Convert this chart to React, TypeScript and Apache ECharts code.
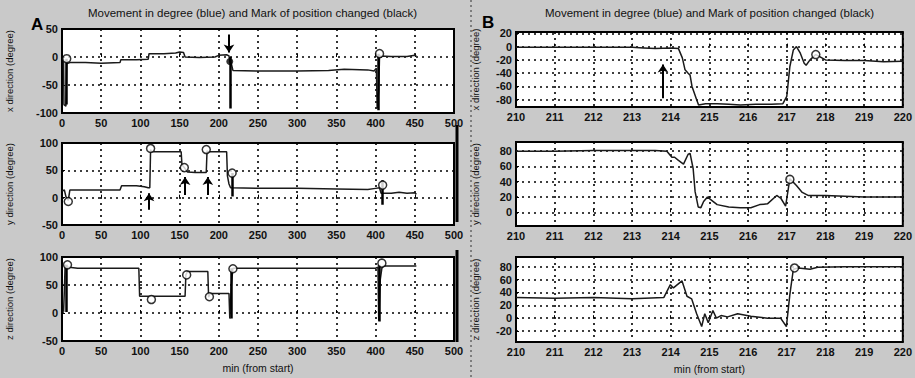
import React, { useEffect, useRef } from "react";
import * as echarts from "echarts";

const titleText = "Movement in degree (blue) and Mark of position changed (black)";
const xAxisName = "min (from start)";
const yNames = ["x direction (degree)", "y direction (degree)", "z direction (degree)"];

// ---- Panel A (0..500 min) ----
const axBlue = [[0,-4],[2,-4],[2.5,-85],[5,-88],[6,-12],[10,-10],[30,-10],[50,-11],[74,-10],[75,-5],[95,-5],[110,-4],[111,6],[130,6],[145,7],[150,9],[155,8],[157,0],[175,-1],[195,0],[200,3],[210,4],[213,2],[214,-8],[216,-12],[218,-24],[250,-25],[300,-25],[340,-24],[360,-22],[390,-23],[398,-25],[401,-20],[402,-92],[404,-60],[405,2],[420,1],[440,1],[450,3],[452,2]];
const axMarks = [[5,-3,-85],[214,0,-92],[404,6,-95]];
const axCircles = [[6,-3],[405,6]];
const axDots = [[214,-8]];
const axArrows = [[213,40,8]];

const ayBlue = [[0,12],[3,14],[5,2],[8,-5],[10,14],[40,14],[74,14],[76,22],[95,22],[105,20],[110,18],[112,18],[113,88],[114,84],[130,84],[152,84],[153,60],[156,55],[160,47],[170,46],[184,46],[185,86],[186,84],[200,84],[210,84],[211,40],[213,25],[215,18],[250,17],[300,17],[350,16],[390,15],[400,17],[405,18],[407,8],[420,8],[430,10],[440,8],[450,9],[452,6]];
const ayMarks = [[217,45,2],[408,32,-13]];
const ayCircles = [[8,-7],[113,90],[156,55],[184,88],[217,45],[409,23]];
const ayDots: number[][] = [];
const ayArrows = [[111,-22,8],[157,5,38],[186,5,38]];

const azBlue = [[2,2],[3,40],[4,86],[6,82],[20,80],[60,80],[98,80],[99,30],[120,30],[157,30],[158,68],[160,74],[186,74],[187,28],[189,35],[213,35],[214,-10],[216,50],[218,80],[260,80],[300,80],[350,80],[400,80],[403,82],[404,-14],[406,60],[408,80],[410,84],[452,84]];
const azMarks = [[5,86,2],[216,80,-10],[405,86,-15]];
const azCircles = [[7,86],[114,24],[159,68],[188,29],[218,79],[408,89]];
const azDots: number[][] = [];
const azArrows: number[][] = [];

// ---- Panel B (210..220 min) ----
const bxBlue = [[210,-1],[211,-1],[212,-1],[212.5,-1],[213,-1],[213.3,-2],[213.6,-3],[214.0,-2],[214.2,-3],[214.3,-17],[214.37,-35],[214.45,-40],[214.5,-43],[214.55,-60],[214.67,-80],[214.72,-88],[214.9,-86],[215.2,-86],[215.5,-87],[215.8,-88],[216.2,-87],[216.6,-87],[216.9,-86],[217.0,-75],[217.08,-30],[217.17,-5],[217.25,0],[217.35,-10],[217.45,-25],[217.5,-28],[217.6,-20],[217.75,-12],[217.85,-15],[218.0,-20],[218.5,-21],[219.0,-21],[219.5,-23],[220,-22]];
const bxCircles = [[217.75,-12]];
const bxArrows = [[213.8,-78,-27]];

const byBlue = [[210,80],[211,80],[212,81],[213,81],[213.6,81],[213.9,80],[214.03,72],[214.1,72],[214.2,68],[214.33,63],[214.45,76],[214.5,77],[214.58,57],[214.63,27],[214.71,7],[214.78,6],[214.85,14],[214.95,20],[215.05,16],[215.2,10],[215.5,7],[215.8,6],[216.07,6],[216.3,10],[216.5,11],[216.74,22],[216.85,18],[216.97,8],[217.08,44],[217.25,35],[217.4,26],[217.55,22],[218,22],[218.5,21],[219,20],[219.5,20],[220,20]];
const byCircles = [[217.08,43]];

const bzBlue = [[210,32],[211,31],[212,32],[213,30],[213.82,32],[213.99,52],[214.07,47],[214.29,58],[214.42,34],[214.54,30],[214.67,7],[214.8,-13],[214.88,7],[214.97,-7],[215.09,12],[215.18,0],[215.3,4],[215.47,2],[215.73,7],[216.07,3],[216.5,0],[216.84,0],[216.99,-13],[217.08,37],[217.17,76],[217.3,78],[217.6,76],[217.8,79],[218.5,80],[219,80],[220,80]];
const bzCircles = [[217.2,78]];

const bxTicks = [-80,-60,-40,-20,0,20];
const byTicks = [0,20,40,60,80];
const bzTicks = [-20,0,20,40,60,80];

const FONT = "Liberation Sans";
const INK = "#111";

type Panel = {
  grid: any; xMin: number; xMax: number; xInt: number;
  yMin: number; yMax: number; yInt?: number; yCustom?: number[];
  yName: string; nameGap: number; showXName: boolean;
  blue: number[][]; marks: number[][]; circles: number[][]; dots: number[][]; arrows: number[][];
};

const panels: Panel[] = [
  { grid: { left: 62, width: 392, top: 29, height: 84 }, xMin: 0, xMax: 500, xInt: 50, yMin: -100, yMax: 50, yInt: 50, yName: yNames[0], nameGap: 48, showXName: false, blue: axBlue, marks: axMarks, circles: axCircles, dots: axDots, arrows: axArrows },
  { grid: { left: 62, width: 392, top: 143, height: 82 }, xMin: 0, xMax: 500, xInt: 50, yMin: -50, yMax: 100, yInt: 50, yName: yNames[1], nameGap: 48, showXName: false, blue: ayBlue, marks: ayMarks, circles: ayCircles, dots: ayDots, arrows: ayArrows },
  { grid: { left: 62, width: 392, top: 257, height: 84 }, xMin: 0, xMax: 500, xInt: 50, yMin: -50, yMax: 100, yInt: 50, yName: yNames[2], nameGap: 48, showXName: true, blue: azBlue, marks: azMarks, circles: azCircles, dots: azDots, arrows: azArrows },
  { grid: { left: 516, width: 394, top: 32, height: 75 }, xMin: 210, xMax: 220, xInt: 1, yMin: -91, yMax: 22, yCustom: bxTicks, yName: yNames[0], nameGap: 36, showXName: false, blue: bxBlue, marks: [], circles: bxCircles, dots: [], arrows: bxArrows },
  { grid: { left: 516, width: 394, top: 142, height: 84 }, xMin: 210, xMax: 220, xInt: 1, yMin: -18, yMax: 92, yCustom: byTicks, yName: yNames[1], nameGap: 36, showXName: false, blue: byBlue, marks: [], circles: byCircles, dots: [], arrows: [] },
  { grid: { left: 516, width: 394, top: 257, height: 85 }, xMin: 210, xMax: 220, xInt: 1, yMin: -37, yMax: 95, yCustom: bzTicks, yName: yNames[2], nameGap: 36, showXName: true, blue: bzBlue, marks: [], circles: bzCircles, dots: [], arrows: [] },
];

function buildOption() {
  const grids: any[] = [];
  const xAxes: any[] = [];
  const yAxes: any[] = [];
  const series: any[] = [];
  const split = { show: true, lineStyle: { color: "#000", type: [2, 4], width: 1.6 } };
  const labelStyle = { color: INK, fontFamily: FONT, fontSize: 11, fontWeight: "bold" as const };
  panels.forEach((p, i) => {
    grids.push({ ...p.grid, show: true, backgroundColor: "#fff", borderColor: "#000", borderWidth: 2 });
    xAxes.push({
      type: "value", gridIndex: i, min: p.xMin, max: p.xMax, interval: p.xInt,
      axisLine: { show: false }, axisTick: { show: true, inside: true, length: 3, lineStyle: { color: "#000" } },
      axisLabel: { ...labelStyle, margin: 4 }, splitLine: split,
      name: p.showXName ? xAxisName : "", nameLocation: "middle", nameGap: 21,
      nameTextStyle: { color: INK, fontFamily: FONT, fontSize: 10.5 },
    });
    const y: any = {
      type: "value", gridIndex: i, min: p.yMin, max: p.yMax,
      axisLine: { show: false }, axisTick: { show: true, inside: true, length: 3, lineStyle: { color: "#000" } },
      axisLabel: { ...labelStyle, margin: 4 }, splitLine: split,
      name: p.yName, nameLocation: "middle", nameRotate: 90, nameGap: p.nameGap,
      nameTextStyle: { color: INK, fontFamily: FONT, fontSize: 9.5 },
    };
    if (p.yInt) y.interval = p.yInt;
    if (p.yCustom) {
      y.axisTick = { ...y.axisTick, customValues: p.yCustom };
      y.axisLabel = { ...y.axisLabel, customValues: p.yCustom };
    }
    yAxes.push(y);
    series.push({
      type: "line", xAxisIndex: i, yAxisIndex: i, data: p.blue, showSymbol: false, symbol: "none",
      lineStyle: { color: "#1a1a1a", width: 1.5 }, z: 3,
    });
    if (p.marks.length) series.push({
      type: "lines", coordinateSystem: "cartesian2d", xAxisIndex: i, yAxisIndex: i,
      data: p.marks.map((m) => ({ coords: [[m[0], m[1]], [m[0], m[2]]] })),
      lineStyle: { color: "#000", width: 2.5, opacity: 1 }, symbol: "none", z: 4,
    });
    if (p.arrows.length) series.push({
      type: "lines", coordinateSystem: "cartesian2d", xAxisIndex: i, yAxisIndex: i,
      data: p.arrows.map((m) => ({ coords: [[m[0], m[1]], [m[0], m[2]]] })),
      lineStyle: { color: "#000", width: 2, opacity: 1 }, symbol: ["none", "arrow"], symbolSize: 8, z: 5,
    });
    if (p.circles.length) series.push({
      type: "scatter", xAxisIndex: i, yAxisIndex: i, data: p.circles, symbol: "circle", symbolSize: 8,
      itemStyle: { color: "#fff", borderColor: "#000", borderWidth: 1.5 }, z: 6,
    });
    if (p.dots.length) series.push({
      type: "scatter", xAxisIndex: i, yAxisIndex: i, data: p.dots, symbol: "circle", symbolSize: 7,
      itemStyle: { color: "#000" }, z: 6,
    });
  });
  return {
    animation: false,
    backgroundColor: "#c9c9c9",
    grid: grids, xAxis: xAxes, yAxis: yAxes, series,
    graphic: [
      { type: "text", left: 88, top: 7, style: { text: titleText, fill: INK, font: `11.5px '${FONT}'` } },
      { type: "text", left: 545, top: 7, style: { text: titleText, fill: INK, font: `11.5px '${FONT}'` } },
      { type: "text", left: 31, top: 16, style: { text: "A", fill: "#000", font: `bold 17px '${FONT}'` } },
      { type: "text", left: 482, top: 14, style: { text: "B", fill: "#000", font: `bold 17px '${FONT}'` } },
      { type: "line", shape: { x1: 457, y1: 125, x2: 457, y2: 222 }, style: { stroke: "#000", lineWidth: 3 } },
      { type: "line", shape: { x1: 457, y1: 250, x2: 457, y2: 342 }, style: { stroke: "#000", lineWidth: 3 } },
      { type: "line", shape: { x1: 471, y1: 0, x2: 471, y2: 378 }, style: { stroke: "#333", lineWidth: 1, lineDash: [2, 3] } },
    ],
  };
}

export default function App() {
  const ref = useRef<HTMLDivElement>(null);
  useEffect(() => {
    document.body.style.margin = "0";
    const chart = echarts.init(ref.current!, null, { renderer: "svg" });
    chart.setOption(buildOption() as any);
    return () => chart.dispose();
  }, []);
  return <div ref={ref} style={{ width: 915, height: 378 }} />;
}
